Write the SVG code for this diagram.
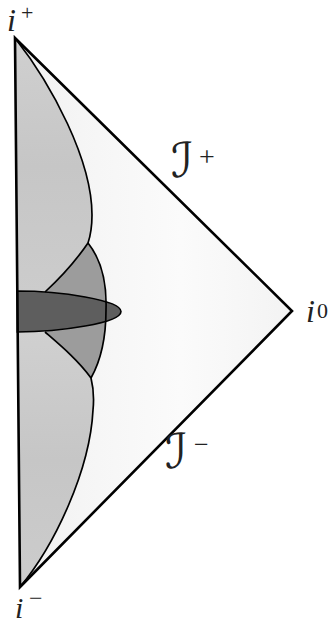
<svg xmlns="http://www.w3.org/2000/svg" width="328" height="625" viewBox="0 0 328 625">
<defs>
<linearGradient id="bg" x1="0" y1="0" x2="1" y2="0">
<stop offset="0" stop-color="#f1f1f1"/>
<stop offset="0.6" stop-color="#fbfbfb"/>
<stop offset="1" stop-color="#f3f3f3"/>
</linearGradient>
<linearGradient id="lobe" x1="0" y1="0" x2="0" y2="1">
<stop offset="0" stop-color="#d0d0d0"/>
<stop offset="0.5" stop-color="#c6c6c6"/>
<stop offset="1" stop-color="#cccccc"/>
</linearGradient>
<style>
.edge{fill:none;stroke:#000;stroke-width:2.6;stroke-linejoin:miter}
.line{fill:none;stroke:#000;stroke-width:1.7}
.lab{font-family:"Liberation Serif","DejaVu Serif",serif;fill:#222}
.it{font-style:italic}
.scr{font-family:"DejaVu Serif","DejaVu Sans",serif;font-style:italic;fill:#222}
</style>
</defs>
<rect width="328" height="625" fill="#fff"/>
<g id="spacetime">
<path d="M15,38 L292,311 L20,587 Z" fill="url(#bg)"/>
</g>
<g id="upper-lobe">
<path d="M15,38 C52,85 92,160 92,215 C92,228 90,237 88,243 C75,262 58,280 45,292 L17,292 Z" fill="url(#lobe)"/>
</g>
<g id="lower-lobe">
<path d="M91,378 C94,390 94,400 93,410 C90,470 55,545 20,587 L17,332 L45,332 C60,345 78,360 91,378 Z" fill="url(#lobe)"/>
</g>
<g id="middle-region">
<path d="M88,243 C100,258 107,280 106,310 C106,340 100,362 91,378 C78,360 60,345 45,332 L45,292 C58,280 75,262 88,243 Z" fill="#9c9c9c"/>
</g>
<g id="core">
<path d="M17.3,291 C60,291 121,300 121,311.5 C121,323 60,332 17.3,332 Z" fill="#5e5e5e" stroke="#000" stroke-width="1.6"/>
</g>
<g id="connectors">
<path class="line" d="M15,38 C52,85 92,160 92,215 C92,228 90,237 88,243 C100,258 107,280 106,310 C106,340 100,362 91,378 C94,390 94,400 93,410 C90,470 55,545 20,587"/>
<path class="line" d="M88,243 C75,262 58,280 45,292"/>
<path class="line" d="M45,332 C60,345 78,360 91,378"/>
<path class="edge" d="M15,38 L292,311 L20,587 Z"/>
</g>
<g id="label-iplus">
<text class="lab it" x="7" y="31" font-size="32">i</text>
<text class="lab" x="21" y="20" font-size="22">+</text>
</g>
<g id="label-iminus">
<text class="lab it" x="15" y="618" font-size="30">i</text>
<text class="lab" x="29" y="606" font-size="24">−</text>
</g>
<g id="label-izero">
<text class="lab it" x="306" y="322" font-size="32">i</text>
<text class="lab" x="317" y="318" font-size="22">0</text>
</g>
<g id="label-scri-plus">
<text class="scr" x="171" y="177" font-size="48">ℐ</text>
<text class="lab" x="199" y="166" font-size="28">+</text>
</g>
<g id="label-scri-minus">
<text class="scr" x="165" y="468" font-size="48">ℐ</text>
<text class="lab" x="194" y="453" font-size="26">−</text>
</g>
</svg>
